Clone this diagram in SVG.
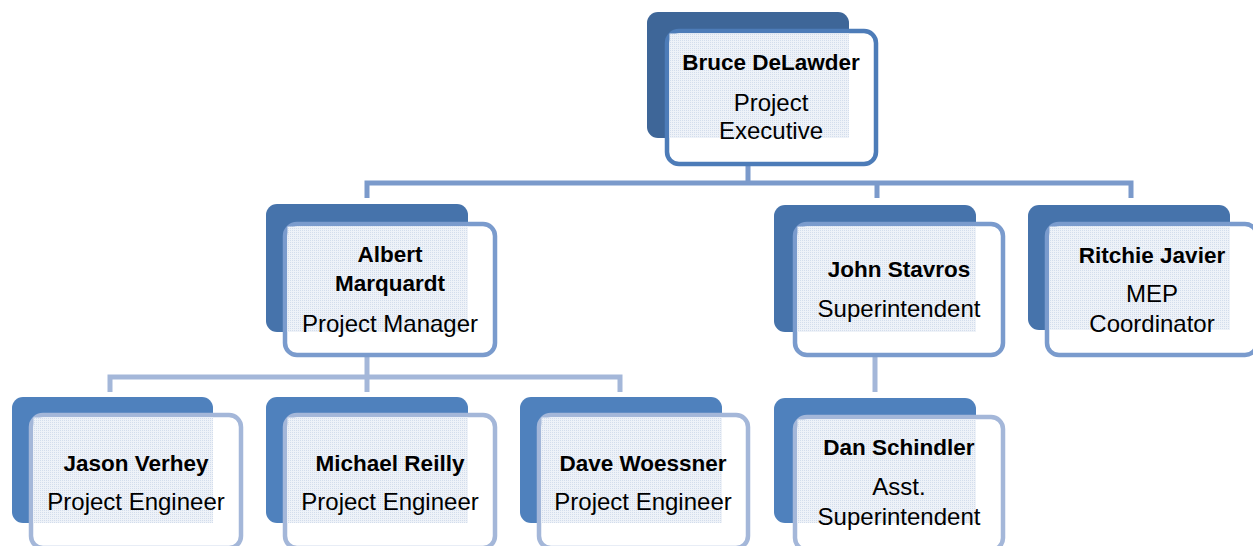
<svg xmlns="http://www.w3.org/2000/svg" width="1253" height="546" viewBox="0 0 1253 546">
<defs>
<pattern id="stip" patternUnits="userSpaceOnUse" width="2" height="2">
<rect x="0" y="0" width="2" height="2" fill="#eef2f8"/>
<rect x="0" y="0" width="1" height="1" fill="#d3ddec"/>
</pattern>
<style>
.b1{fill:#3e6698}
.b2{fill:#4673ab}
.b3{fill:#4f81bd}
.f1{fill:#fff;stroke:#4d7cb8;stroke-width:4.5}
.f2{fill:#fff;stroke:#7a9bcd;stroke-width:4.5}
.f3{fill:#fff;stroke:#a4b7d9;stroke-width:4.5}
.st{fill:url(#stip)}
.c1{fill:none;stroke:#7b9acb;stroke-width:5}
.c2{fill:none;stroke:#a4b7d9;stroke-width:5}
text{font-family:"Liberation Sans",Arial,sans-serif;text-anchor:middle;fill:#000}
.n{font-weight:bold;font-size:22.5px}
.t{font-size:24px}
</style>
</defs>
<rect width="1253" height="546" fill="#fff"/>
<g id="connectors">
<path class="c1" d="M748 164V183M367 198V183H1131V198M877 183V198"/>
<path class="c2" d="M367 357V377M110 392V377H620V392M367 377V392M875 357V392"/>
</g>
<g id="bruce">
<rect class="b1" x="647" y="12" width="202" height="126" rx="11"/>
<rect class="f1" x="667" y="31" width="209" height="133" rx="12"/>
<rect class="st" x="669.5" y="33.5" width="179.5" height="104.5"/>
<text class="n" x="771" y="70">Bruce DeLawder</text>
<text class="t" x="771" y="111">Project</text>
<text class="t" x="771" y="139">Executive</text>
</g>
<g id="albert">
<rect class="b2" x="266" y="204" width="202" height="128" rx="11"/>
<rect class="f2" x="285" y="224" width="210" height="131" rx="12"/>
<rect class="st" x="287.5" y="226.5" width="180.5" height="105.5"/>
<text class="n" x="390" y="262">Albert</text>
<text class="n" x="390" y="291">Marquardt</text>
<text class="t" x="390" y="332">Project Manager</text>
</g>
<g id="john">
<rect class="b2" x="774" y="205" width="202" height="127" rx="11"/>
<rect class="f2" x="795" y="224" width="208" height="131" rx="12"/>
<rect class="st" x="797.5" y="226.5" width="178.5" height="105.5"/>
<text class="n" x="899" y="277">John Stavros</text>
<text class="t" x="899" y="317">Superintendent</text>
</g>
<g id="ritchie">
<rect class="b2" x="1028" y="205" width="202" height="125" rx="11"/>
<rect class="f2" x="1047" y="224" width="210" height="131" rx="12"/>
<rect class="st" x="1049.5" y="226.5" width="180.5" height="103.5"/>
<text class="n" x="1152" y="263">Ritchie Javier</text>
<text class="t" x="1152" y="302">MEP</text>
<text class="t" x="1152" y="332">Coordinator</text>
</g>
<g id="jason">
<rect class="b3" x="12" y="397" width="201" height="126" rx="11"/>
<rect class="f3" x="31" y="415" width="210" height="133" rx="12"/>
<rect class="st" x="33.5" y="417.5" width="179.5" height="105.5"/>
<text class="n" x="136" y="471">Jason Verhey</text>
<text class="t" x="136" y="510">Project Engineer</text>
</g>
<g id="michael">
<rect class="b3" x="266" y="397" width="202" height="126" rx="11"/>
<rect class="f3" x="285" y="415" width="210" height="133" rx="12"/>
<rect class="st" x="287.5" y="417.5" width="180.5" height="105.5"/>
<text class="n" x="390" y="471">Michael Reilly</text>
<text class="t" x="390" y="510">Project Engineer</text>
</g>
<g id="dave">
<rect class="b3" x="520" y="397" width="202" height="126" rx="11"/>
<rect class="f3" x="539" y="415" width="209" height="133" rx="12"/>
<rect class="st" x="541.5" y="417.5" width="180.5" height="105.5"/>
<text class="n" x="643" y="471">Dave Woessner</text>
<text class="t" x="643" y="510">Project Engineer</text>
</g>
<g id="dan">
<rect class="b3" x="774" y="398" width="202" height="125" rx="11"/>
<rect class="f3" x="795" y="417" width="208" height="133" rx="12"/>
<rect class="st" x="797.5" y="419.5" width="178.5" height="103.5"/>
<text class="n" x="899" y="455">Dan Schindler</text>
<text class="t" x="899" y="495">Asst.</text>
<text class="t" x="899" y="525">Superintendent</text>
</g>
</svg>
